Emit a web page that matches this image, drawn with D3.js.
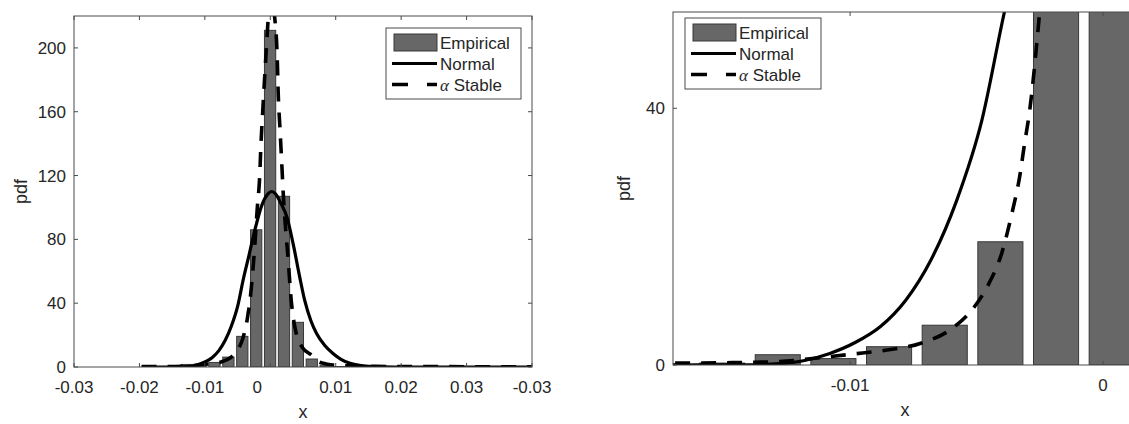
<!DOCTYPE html>
<html>
<head>
<meta charset="utf-8">
<script src="https://cdn.jsdelivr.net/npm/d3@7"></script>
<style>
  body { margin: 0; background: #fff; }
  svg text { font-family: "Liberation Sans", Arial, sans-serif; fill: #262626; }
</style>
</head>
<body>
<div id="canvas"></div>
<script>
// empirical histogram (bin centres and heights)
const binCenters = [-0.01726, -0.01506, -0.01286, -0.01066, -0.00846, -0.00626, -0.00406,
                    -0.00186, 0.00034, 0.00254, 0.00474, 0.00694, 0.00914, 0.01134];
const binHeights = [0.2, 0.3, 1.6, 1.0, 2.85, 6.2, 19.2, 86, 211, 107, 28, 5, 1.2, 0.3];

// fitted normal pdf
const normalX = [-0.02, -0.016, -0.014, -0.0128, -0.0118, -0.0108, -0.0098, -0.0088, -0.0078, -0.0068,
                 -0.0058, -0.0048, -0.0039, -0.003, -0.002, -0.001, 0.0, 0.0006,
                 0.0012, 0.002, 0.003, 0.004, 0.005, 0.0058, 0.0068, 0.0077, 0.009, 0.0103,
                 0.0115, 0.013, 0.0145, 0.016, 0.018, 0.02, 0.03, 0.045];
const normalY = [0, 0.005, 0.03, 0.2, 0.7, 1.8, 3.5, 6.0, 10.1, 16.4,
                 25.5, 38, 55, 70, 87, 101, 108.5, 110,
                 108.5, 103, 94, 77, 57, 42, 29, 21, 13.5, 8.5,
                 5, 2.3, 1, 0.4, 0.1, 0, 0, 0];

// fitted alpha-stable pdf
const stableX = [-0.02, -0.017, -0.015, -0.0135, -0.0125, -0.0113, -0.0099, -0.0086, -0.0072,
                 -0.006, -0.0051, -0.0045, -0.004, -0.0036, -0.0033, -0.0031, -0.0029, -0.0026, -0.0024,
                 -0.0021, -0.0017, -0.0013, -0.0011, -0.0008, -0.0005, -0.0002, 0.0001, 0.0005, 0.001,
                 0.00147, 0.00163, 0.0019, 0.00217, 0.00242, 0.00285, 0.00321, 0.00359, 0.00454, 0.0055,
                 0.0069, 0.0082, 0.01, 0.013, 0.017, 0.025, 0.045];
const stableY = [0.25, 0.3, 0.35, 0.45, 0.6, 1.1, 1.7, 2.3, 3.4,
                 5.6, 9, 12.8, 17.5, 23.7, 29.3, 34.6, 39.7, 51, 60,
                 75, 99, 120, 140, 162, 183, 203, 222, 240, 222,
                 194, 171, 150, 129, 109, 84, 67, 46, 20, 12,
                 7.5, 3, 1.4, 0.7, 0.4, 0.25, 0.15];

const leftTickLabels = ["-0.03", "-0.02", "-0.01", "0", "0.01", "0.02", "0.03", "-0.03"];
const leftYTicks = [0, 40, 80, 120, 160, 200];
const rightXTicks = [-0.01, 0];
const rightXTickLabels = ["-0.01", "0"];
const rightYTicks = [0, 40];
const legendNames = ["Empirical", "Normal", "Stable"];

const W = 1129, H = 424;
const svg = d3.select("#canvas").append("svg")
    .attr("width", W).attr("height", H)
    .attr("viewBox", [0, 0, W, H]);

const normal = normalX.map((x, i) => ({x: x, y: normalY[i]}));
const stable = stableX.map((x, i) => ({x: x, y: stableY[i]}));
const bins = binCenters.map((c, i) => ({c: c, h: binHeights[i]}));
const binW = binCenters[1] - binCenters[0];

function drawPanel(p) {
    const x = d3.scaleLinear().domain(p.xDomain).range([p.left, p.right]);
    const y = d3.scaleLinear().domain(p.yDomain).range([p.bottom, p.top]);
    const g = svg.append("g");

    g.append("clipPath").attr("id", p.id)
        .append("rect")
            .attr("x", p.left).attr("y", p.top)
            .attr("width", p.right - p.left).attr("height", p.bottom - p.top);

    const plot = g.append("g").attr("clip-path", "url(#" + p.id + ")");

    plot.selectAll("rect.bar")
            .data(bins)
        .enter().append("rect")
            .attr("class", "bar")
            .attr("x", d => x(d.c - binW * 0.405))
            .attr("width", d => x(d.c + binW * 0.405) - x(d.c - binW * 0.405))
            .attr("y", d => y(d.h))
            .attr("height", d => y(0) - y(d.h))
            .attr("fill", "#676767")
            .attr("stroke", "#383838")
            .attr("stroke-width", 1);

    const line = d3.line()
        .x(d => x(d.x))
        .y(d => y(d.y))
        .curve(d3.curveMonotoneX);

    plot.append("path").datum(normal)
        .attr("d", line)
        .attr("fill", "none")
        .attr("stroke", "#000")
        .attr("stroke-width", 3.2);

    plot.append("path").datum(stable)
        .attr("d", line)
        .attr("fill", "none")
        .attr("stroke", "#000")
        .attr("stroke-width", 3.6)
        .attr("stroke-dasharray", "15,11");

    // box
    g.append("rect")
        .attr("x", p.left).attr("y", p.top)
        .attr("width", p.right - p.left).attr("height", p.bottom - p.top)
        .attr("fill", "none").attr("stroke", "#4a4a4a").attr("stroke-width", 1);

    // x ticks (inward, bottom and top) + labels
    p.xTicks.forEach((t, i) => {
        const px = x(t);
        g.append("line").attr("x1", px).attr("x2", px)
            .attr("y1", p.bottom).attr("y2", p.bottom - 4).attr("stroke", "#4a4a4a");
        g.append("line").attr("x1", px).attr("x2", px)
            .attr("y1", p.top).attr("y2", p.top + 4).attr("stroke", "#4a4a4a");
        g.append("text")
            .attr("x", px + (p.xLabels[i] === "0" ? p.zeroShift : 0))
            .attr("y", p.bottom + 26)
            .attr("text-anchor", "middle")
            .style("font-size", "17px")
            .text(p.xLabels[i]);
    });

    // y ticks (inward, left and right) + labels
    p.yTicks.forEach(t => {
        const py = y(t);
        g.append("line").attr("x1", p.left).attr("x2", p.left + 4)
            .attr("y1", py).attr("y2", py).attr("stroke", "#4a4a4a");
        g.append("line").attr("x1", p.right).attr("x2", p.right - 4)
            .attr("y1", py).attr("y2", py).attr("stroke", "#4a4a4a");
        g.append("text")
            .attr("x", p.left - 8)
            .attr("y", py + 6)
            .attr("text-anchor", "end")
            .style("font-size", "17px")
            .text(t);
    });

    g.append("text")
        .attr("x", (p.left + p.right) / 2)
        .attr("y", p.bottom + 51)
        .attr("text-anchor", "middle")
        .style("font-size", "18px")
        .text("x");

    g.append("text")
        .attr("transform", "translate(" + (p.left - p.yLabelGap) + "," + ((p.top + p.bottom) / 2) + ") rotate(-90)")
        .attr("text-anchor", "middle")
        .style("font-size", "18px")
        .text("pdf");

    // legend
    const L = p.legend;
    const lg = g.append("g");
    lg.append("rect")
        .attr("x", L.x).attr("y", L.y).attr("width", L.w).attr("height", L.h)
        .attr("fill", "#fff").attr("stroke", "#4a4a4a").attr("stroke-width", 1);
    const rows = [L.y + 14.5, L.y + 35.5, L.y + 56.5];
    lg.append("rect")
        .attr("x", L.x + 8).attr("y", rows[0] - 8.5)
        .attr("width", 43).attr("height", 17)
        .attr("fill", "#676767").attr("stroke", "#383838");
    lg.append("line")
        .attr("x1", L.x + 6).attr("x2", L.x + 51)
        .attr("y1", rows[1]).attr("y2", rows[1])
        .attr("stroke", "#000").attr("stroke-width", 3.2);
    lg.append("line")
        .attr("x1", L.x + 6).attr("x2", L.x + 51)
        .attr("y1", rows[2]).attr("y2", rows[2])
        .attr("stroke", "#000").attr("stroke-width", 3.6)
        .attr("stroke-dasharray", "16,19");
    legendNames.forEach((name, i) => {
        const t = lg.append("text")
            .attr("x", L.x + 54)
            .attr("y", rows[i] + 6)
            .style("font-size", "17px");
        if (name === "Stable") {
            t.append("tspan")
                .style("font-family", "'Liberation Serif', 'DejaVu Serif', serif")
                .style("font-style", "italic")
                .text("\u03b1");
            t.append("tspan").text(" " + name);
        } else {
            t.text(name);
        }
    });
}

// left panel: full view
const leftDomain = [-0.0307, 0.0418];
drawPanel({
    id: "clipL",
    left: 74, right: 532, top: 16, bottom: 367,
    xDomain: leftDomain,
    yDomain: [0, 220],
    xTicks: d3.range(8).map(i => leftDomain[0] + i * (leftDomain[1] - leftDomain[0]) / 7),
    xLabels: leftTickLabels,
    zeroShift: -13,
    yTicks: leftYTicks,
    yLabelGap: 47,
    legend: {x: 386, y: 28, w: 135, h: 71}
});

// right panel: zoom on the left tail
drawPanel({
    id: "clipR",
    left: 673, right: 1137, top: 12, bottom: 365,
    xDomain: [-0.017, 0.00134],
    yDomain: [0, 55],
    xTicks: rightXTicks,
    xLabels: rightXTickLabels,
    zeroShift: 0,
    yTicks: rightYTicks,
    yLabelGap: 43,
    legend: {x: 685, y: 18, w: 136, h: 71}
});
</script>
</body>
</html>
